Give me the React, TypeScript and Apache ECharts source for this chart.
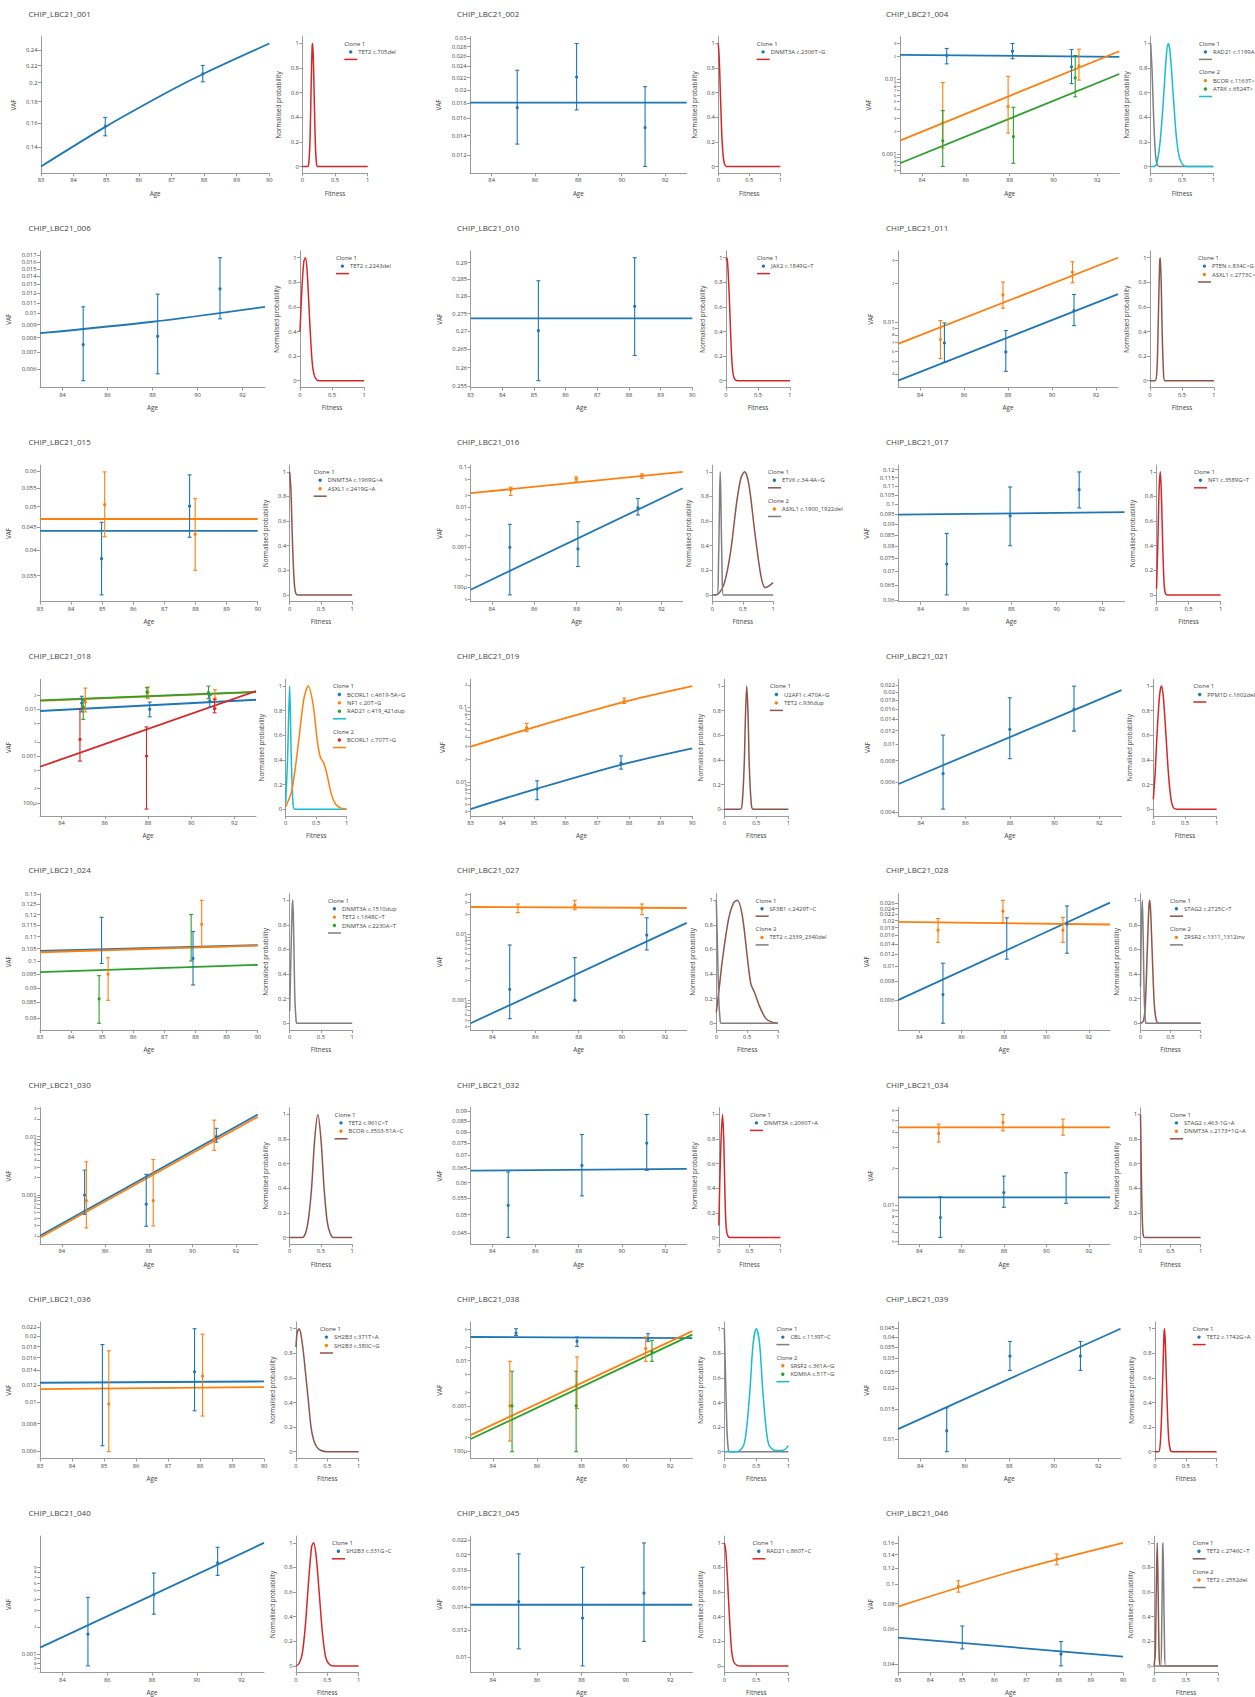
import React, { useEffect, useRef } from 'react';
import * as echarts from 'echarts';

const BLUE = '#1f77b4';
const ORANGE = '#ff7f0e';
const GREEN = '#2ca02c';
const RED = '#d62728';
const BROWN = '#8c564b';
const GRAY = '#7f7f7f';
const CYAN = '#17becf';

// ---------- axis tick labels ----------
const AGE_TICKS_90 = [83, 84, 85, 86, 87, 88, 89, 90];
const AGE_TICKS_93 = [84, 86, 88, 90, 92];
const FIT_X_TICKS = [0, 0.5, 1];
const FIT_Y_TICKS = [0, 0.2, 0.4, 0.6, 0.8, 1];

const YT_001 = [0.14, 0.16, 0.18, 0.2, 0.22, 0.24];
const YT_002 = [0.012, 0.014, 0.016, 0.018, 0.02, 0.022, 0.024, 0.026, 0.028, 0.03];
const YT_004 = [0.0006, 0.0007, 0.0008, 0.0009, 0.001, 0.002, 0.003, 0.004, 0.005, 0.006, 0.007, 0.008, 0.009, 0.01, 0.02, 0.03];
const YT_006 = [0.006, 0.007, 0.008, 0.009, 0.01, 0.011, 0.012, 0.013, 0.014, 0.015, 0.016, 0.017];
const YT_010 = [0.255, 0.26, 0.265, 0.27, 0.275, 0.28, 0.285, 0.29];
const YT_011 = [0.004, 0.005, 0.006, 0.007, 0.008, 0.009, 0.01, 0.02, 0.03];
const YT_015 = [0.035, 0.04, 0.045, 0.05, 0.055, 0.06];
const YT_016 = [0.00005, 0.0001, 0.0002, 0.0005, 0.001, 0.002, 0.005, 0.01, 0.02, 0.05, 0.1];
const YT_017 = [0.06, 0.065, 0.07, 0.075, 0.08, 0.085, 0.09, 0.095, 0.1, 0.105, 0.11, 0.115, 0.12];
const YT_018 = [0.0001, 0.0002, 0.0005, 0.001, 0.002, 0.005, 0.01, 0.02, 0.05];
const YT_019 = [0.004, 0.005, 0.006, 0.007, 0.008, 0.009, 0.01, 0.02, 0.03, 0.04, 0.05, 0.06, 0.07, 0.08, 0.09, 0.1, 0.2];
const YT_021 = [0.004, 0.006, 0.008, 0.01, 0.012, 0.014, 0.016, 0.018, 0.02, 0.022, 0.024];
const YT_024 = [0.08, 0.085, 0.09, 0.095, 0.1, 0.105, 0.11, 0.115, 0.12, 0.125, 0.13];
const YT_027 = [0.0004, 0.0005, 0.0006, 0.0007, 0.0008, 0.0009, 0.001, 0.002, 0.003, 0.004, 0.005, 0.006, 0.007, 0.008, 0.009, 0.01, 0.02, 0.03, 0.04];
const YT_028 = [0.006, 0.008, 0.01, 0.012, 0.014, 0.016, 0.018, 0.02, 0.022, 0.024, 0.026, 0.028];
const YT_030 = [0.0002, 0.0003, 0.0004, 0.0005, 0.0006, 0.0007, 0.0008, 0.0009, 0.001, 0.002, 0.003, 0.004, 0.005, 0.006, 0.007, 0.008, 0.009, 0.01, 0.02, 0.03];
const YT_032 = [0.045, 0.05, 0.055, 0.06, 0.065, 0.07, 0.075, 0.08, 0.085, 0.09];
const YT_034 = [0.005, 0.006, 0.007, 0.008, 0.009, 0.01, 0.02, 0.03, 0.04, 0.05, 0.06];
const YT_036 = [0.006, 0.008, 0.01, 0.012, 0.014, 0.016, 0.018, 0.02, 0.022];
const YT_038 = [0.0001, 0.0002, 0.0005, 0.001, 0.002, 0.005, 0.01, 0.02, 0.05];
const YT_039 = [0.01, 0.015, 0.02, 0.025, 0.03, 0.035, 0.04, 0.045];
const YT_040 = [0.0007, 0.0008, 0.0009, 0.001, 0.002, 0.003, 0.004, 0.005, 0.006, 0.007, 0.008, 0.009, 0.01, 0.02];
const YT_045 = [0.01, 0.012, 0.014, 0.016, 0.018, 0.02, 0.022];
const YT_046 = [0.04, 0.06, 0.08, 0.1, 0.12, 0.14, 0.16];

// ---------- VAF points: [age, vaf, low, high] and fitted trajectories: [age, vaf] ----------
const PTS_001_TET2 = [[84.97, 0.157, 0.149, 0.165], [87.96, 0.21, 0.201, 0.22]];
const LINE_001_TET2 = [[83, 0.1257], [85, 0.157], [87, 0.192], [88, 0.2105], [90, 0.2485]];

const PTS_002_DNMT3A = [[85.18, 0.0174, 0.0131, 0.0233], [87.92, 0.0221, 0.0171, 0.0287], [91.08, 0.0149, 0.011, 0.0205]];
const LINE_002_DNMT3A = [[83, 0.0181], [93, 0.0181]];

const PTS_004_RAD21 = [[85.13, 0.0207, 0.016, 0.0257], [88.13, 0.0236, 0.0187, 0.0299], [90.82, 0.0146, 0.0087, 0.0249]];
const LINE_004_RAD21 = [[83, 0.0211], [93, 0.0198]];
const PTS_004_BCOR = [[84.95, 0.0026, 0.0012, 0.009], [87.93, 0.0043, 0.0019, 0.0109], [91.16, 0.015, 0.0097, 0.0251]];
const LINE_004_BCOR = [[83, 0.00151], [93, 0.0236]];
const PTS_004_ATRX = [[84.95, 0.0015, 0.00068, 0.0038], [88.17, 0.0017, 0.00075, 0.0042], [90.99, 0.0104, 0.0058, 0.0207]];
const LINE_004_ATRX = [[83, 0.00075], [93, 0.0117]];

const PTS_006_TET2 = [[84.92, 0.0075, 0.0054, 0.0106], [88.23, 0.0081, 0.00575, 0.0119], [91.0, 0.0125, 0.0095, 0.0166]];
const LINE_006_TET2 = [[83, 0.00833], [88, 0.00925], [93, 0.0106]];

const PTS_010_JAK2 = [[85.14, 0.2702, 0.2565, 0.2846], [88.18, 0.2771, 0.2633, 0.2915]];
const LINE_010_JAK2 = [[83, 0.2737], [90, 0.2737]];

const PTS_011_PTEN = [[85.11, 0.00693, 0.00491, 0.00988], [87.9, 0.0059, 0.00419, 0.00863], [91.0, 0.0123, 0.00942, 0.01635]];
const LINE_011_PTEN = [[83, 0.00355], [93, 0.01644]];
const PTS_011_ASXL1 = [[84.93, 0.00735, 0.00525, 0.0103], [87.77, 0.01626, 0.01283, 0.02037], [90.93, 0.02432, 0.02013, 0.02923]];
const LINE_011_ASXL1 = [[83, 0.00681], [93, 0.03136]];

const PTS_015_DNMT3A = [[84.98, 0.0382, 0.0317, 0.0461], [87.81, 0.0501, 0.0427, 0.0589]];
const LINE_015_DNMT3A = [[83, 0.0441], [90, 0.0441]];
const PTS_015_ASXL1 = [[85.08, 0.0505, 0.0428, 0.0598], [87.99, 0.0433, 0.036, 0.0521]];
const LINE_015_ASXL1 = [[83, 0.0469], [90, 0.0469]];

const PTS_016_ETV6 = [[84.85, 0.001, 0.0000653, 0.00373], [88.06, 0.00091, 0.000331, 0.00434], [90.89, 0.00962, 0.00637, 0.0164]];
const LINE_016_ETV6 = [[83, 0.0000877], [93, 0.0295]];
const PTS_016_ASXL1 = [[84.89, 0.0268, 0.0194, 0.0313], [87.98, 0.0503, 0.0441, 0.0564], [91.08, 0.061, 0.0523, 0.067]];
const LINE_016_ASXL1 = [[83, 0.0222], [93, 0.0751]];

const PTS_017_NF1 = [[85.15, 0.0727, 0.0618, 0.0856], [87.95, 0.094, 0.0802, 0.1095], [91.0, 0.108, 0.098, 0.1186]];
const LINE_017_NF1 = [[83, 0.0946], [93, 0.0958]];

const PTS_018_BCORL1A = [[84.93, 0.0136, 0.0088, 0.019], [88.08, 0.01, 0.0069, 0.0143], [90.86, 0.015, 0.0112, 0.02]];
const LINE_018_BCORL1A = [[83, 0.0092], [93, 0.016]];
const PTS_018_NF1 = [[85.1, 0.0143, 0.0088, 0.0284], [88.0, 0.0234, 0.0169, 0.0299], [91.1, 0.0169, 0.0103, 0.0262]];
const LINE_018_NF1 = [[83, 0.0152], [93, 0.0232]];
const PTS_018_RAD21 = [[85.0, 0.0112, 0.0061, 0.0155], [87.95, 0.0234, 0.0183, 0.029], [90.8, 0.0226, 0.0169, 0.0313]];
const LINE_018_RAD21 = [[83, 0.0155], [93, 0.0236]];
const PTS_018_BCORL1B = [[84.85, 0.00226, 0.00078, 0.0103], [87.93, 0.001, 0.0000735, 0.0042], [91.08, 0.0103, 0.0084, 0.0163]];
const LINE_018_BCORL1B = [[83, 0.00059], [93, 0.0245]];

const PTS_019_U2AF1 = [[85.1, 0.00797, 0.00574, 0.0103], [87.75, 0.0178, 0.0148, 0.0223]];
const LINE_019_U2AF1 = [[83, 0.0043], [85.1, 0.0081], [87.8, 0.0172], [90, 0.0282]];
const PTS_019_TET2 = [[84.77, 0.0534, 0.0472, 0.0609], [87.85, 0.1216, 0.1131, 0.1333]];
const LINE_019_TET2 = [[83, 0.0297], [85, 0.054], [88, 0.1228], [90, 0.193]];

const PTS_021_PPM1D = [[85.0, 0.00672, 0.00418, 0.01128], [87.99, 0.01217, 0.00822, 0.01862], [90.87, 0.01592, 0.0119, 0.02178]];
const LINE_021_PPM1D = [[83, 0.00585], [93, 0.02064]];

const PTS_024_DNMT3A_A = [[84.98, 0.1085, 0.099, 0.1187], [87.92, 0.101, 0.091, 0.1123]];
const LINE_024_DNMT3A_A = [[83, 0.104], [90, 0.1064]];
const PTS_024_TET2 = [[85.19, 0.095, 0.0857, 0.1013], [88.2, 0.1155, 0.1055, 0.1269]];
const LINE_024_TET2 = [[83, 0.1035], [90, 0.1062]];
const PTS_024_DNMT3A_B = [[84.9, 0.0862, 0.0783, 0.0944], [87.86, 0.11, 0.1, 0.12]];
const LINE_024_DNMT3A_B = [[83, 0.0957], [90, 0.0985]];

const PTS_027_SF3B1 = [[84.81, 0.00146, 0.000525, 0.00684], [87.82, 0.001, 0.00098, 0.0044], [91.15, 0.00966, 0.00575, 0.0176]];
const LINE_027_SF3B1 = [[83, 0.000447], [93, 0.0148]];
const PTS_027_TET2 = [[85.19, 0.0248, 0.0211, 0.0285], [87.82, 0.0272, 0.0234, 0.0324], [90.93, 0.0243, 0.0197, 0.0285]];
const LINE_027_TET2 = [[83, 0.0257], [93, 0.0248]];

const PTS_028_STAG2 = [[85.12, 0.00653, 0.00423, 0.0105], [88.13, 0.01507, 0.01117, 0.02089], [90.97, 0.01897, 0.01222, 0.025]];
const LINE_028_STAG2 = [[83, 0.006], [93, 0.0263]];
const PTS_028_ZRSR2 = [[84.89, 0.01733, 0.01442, 0.02066], [87.95, 0.02307, 0.01945, 0.02722], [90.78, 0.01733, 0.01442, 0.021]];
const LINE_028_ZRSR2 = [[83, 0.01965], [93, 0.01888]];

const PTS_030_TET2 = [[85.05, 0.001, 0.000467, 0.00267], [87.88, 0.000697, 0.000292, 0.00226], [91.1, 0.01, 0.00802, 0.0138]];
const LINE_030_TET2 = [[83, 0.000201], [93, 0.0238]];
const PTS_030_BCOR = [[85.13, 0.000802, 0.000274, 0.00369], [88.2, 0.0008, 0.000296, 0.00404], [91.0, 0.00901, 0.00581, 0.0191]];
const LINE_030_BCOR = [[83, 0.000188], [93, 0.0217]];

const PTS_032_DNMT3A = [[84.74, 0.0527, 0.0439, 0.0637], [88.15, 0.0661, 0.0556, 0.0788], [91.15, 0.0751, 0.0643, 0.0883]];
const LINE_032_DNMT3A = [[83, 0.0642], [93, 0.0648]];

const PTS_034_STAG2 = [[85.0, 0.00787, 0.0054, 0.0117], [87.99, 0.01263, 0.00957, 0.01729], [90.93, 0.01371, 0.01032, 0.01844]];
const LINE_034_STAG2 = [[83, 0.01156], [93, 0.01156]];
const PTS_034_DNMT3A = [[84.92, 0.0388, 0.033, 0.0464], [87.95, 0.0478, 0.0408, 0.0556], [90.78, 0.044, 0.0376, 0.0509]];
const LINE_034_DNMT3A = [[83, 0.0435], [93, 0.0435]];

const PTS_036_SH2B3A = [[84.95, 0.01054, 0.00634, 0.01838], [87.83, 0.0138, 0.00916, 0.0217]];
const LINE_036_SH2B3A = [[83, 0.0123], [90, 0.01247]];
const PTS_036_SH2B3B = [[85.15, 0.00983, 0.00596, 0.0172], [88.08, 0.01318, 0.00867, 0.0205]];
const LINE_036_SH2B3B = [[83, 0.0115], [90, 0.01175]];

const PTS_038_CBL = [[85.05, 0.0407, 0.0362, 0.0508], [87.8, 0.0267, 0.0207, 0.0333], [91.0, 0.0305, 0.0267, 0.0394]];
const LINE_038_CBL = [[83, 0.0333], [93, 0.0316]];
const PTS_038_SRSF2 = [[84.77, 0.001, 0.000166, 0.00966], [87.8, 0.00286, 0.000873, 0.01206], [90.9, 0.0184, 0.00966, 0.0333]];
const LINE_038_SRSF2 = [[83, 0.000225], [93, 0.0451]];
const PTS_038_KDM6A = [[84.87, 0.001, 0.0000966, 0.00582], [87.76, 0.001, 0.0000966, 0.00582], [91.18, 0.0155, 0.00966, 0.0281]];
const LINE_038_KDM6A = [[83, 0.000184], [93, 0.0375]];

const PTS_039_TET2 = [[85.19, 0.01119, 0.00843, 0.01528], [88.03, 0.0308, 0.0254, 0.0376], [91.2, 0.0308, 0.0254, 0.0376]];
const LINE_039_TET2 = [[83, 0.01145], [93, 0.0447]];

const PTS_040_SH2B3 = [[85.14, 0.00166, 0.000745, 0.0042], [88.08, 0.00449, 0.00275, 0.00776], [90.93, 0.01, 0.00732, 0.01486]];
const LINE_040_SH2B3 = [[83, 0.00118], [93, 0.0166]];

const PTS_045_RAD21 = [[85.17, 0.01456, 0.01058, 0.0201], [88.05, 0.01303, 0.00943, 0.01836], [90.82, 0.01542, 0.01112, 0.02164]];
const LINE_045_RAD21 = [[83, 0.01425], [93, 0.01425]];

const PTS_046_TET2A = [[85.0, 0.0543, 0.0477, 0.062], [88.07, 0.045, 0.0393, 0.0519]];
const LINE_046_TET2A = [[83, 0.0543], [90, 0.0437]];
const PTS_046_TET2B = [[84.88, 0.0974, 0.0912, 0.1039], [87.94, 0.1331, 0.1248, 0.141]];
const LINE_046_TET2B = [[83, 0.0774], [86.5, 0.1148], [90, 0.16]];

// ---------- fitness distributions: [fitness, normalised probability] ----------
const FIT_001 = [[0, 0], [0.08, 0], [0.1, 0.03], [0.12, 0.25], [0.135, 0.65], [0.15, 0.97], [0.158, 1], [0.17, 0.85], [0.185, 0.5], [0.2, 0.18], [0.215, 0.04], [0.235, 0], [1, 0]];
const FIT_002 = [[0, 1], [0.015, 0.88], [0.03, 0.65], [0.045, 0.42], [0.06, 0.22], [0.08, 0.08], [0.1, 0.02], [0.13, 0], [1, 0]];
const FIT_004_C1 = [[0, 1], [0.02, 0.8], [0.04, 0.5], [0.06, 0.24], [0.08, 0.08], [0.1, 0.02], [0.13, 0], [1, 0]];
const FIT_004_C2 = [[0, 0], [0.05, 0], [0.1, 0.03], [0.15, 0.2], [0.2, 0.52], [0.25, 0.9], [0.28, 1], [0.31, 0.93], [0.36, 0.58], [0.41, 0.24], [0.46, 0.07], [0.52, 0.01], [0.58, 0], [1, 0]];
const FIT_006 = [[0, 0.4], [0.03, 0.75], [0.06, 0.97], [0.085, 1], [0.11, 0.9], [0.14, 0.6], [0.17, 0.3], [0.2, 0.1], [0.24, 0.02], [0.3, 0], [1, 0]];
const FIT_010 = [[0, 0.98], [0.015, 1], [0.03, 0.92], [0.05, 0.7], [0.07, 0.42], [0.09, 0.18], [0.11, 0.06], [0.14, 0.01], [0.2, 0], [1, 0]];
const FIT_011 = [[0, 0], [0.08, 0], [0.11, 0.1], [0.13, 0.5], [0.15, 0.95], [0.16, 1], [0.175, 0.8], [0.19, 0.4], [0.21, 0.08], [0.23, 0], [1, 0]];
const FIT_015 = [[0, 1], [0.02, 0.85], [0.04, 0.5], [0.06, 0.22], [0.08, 0.06], [0.1, 0.01], [0.13, 0], [1, 0]];
const FIT_016_C1 = [[0, 0], [0.1, 0.01], [0.2, 0.1], [0.3, 0.35], [0.4, 0.75], [0.47, 0.95], [0.53, 1], [0.6, 0.9], [0.7, 0.5], [0.8, 0.15], [0.87, 0.06], [0.92, 0.07], [1, 0.1]];
const FIT_016_C2 = [[0, 0], [0.08, 0], [0.1, 0.2], [0.12, 0.8], [0.13, 1], [0.14, 0.8], [0.16, 0.2], [0.18, 0], [1, 0]];
const FIT_017 = [[0, 0.05], [0.02, 0.4], [0.04, 0.85], [0.06, 1], [0.08, 0.75], [0.1, 0.35], [0.12, 0.08], [0.14, 0.01], [0.17, 0], [1, 0]];
const FIT_018_C1 = [[0, 0.05], [0.03, 0.4], [0.065, 1], [0.09, 0.45], [0.12, 0.05], [0.15, 0], [1, 0]];
const FIT_018_C2 = [[0, 0.02], [0.1, 0.15], [0.2, 0.5], [0.3, 0.9], [0.37, 1], [0.45, 0.85], [0.52, 0.55], [0.57, 0.42], [0.62, 0.38], [0.67, 0.3], [0.75, 0.12], [0.82, 0.04], [0.9, 0.01], [1, 0]];
const FIT_019 = [[0, 0], [0.25, 0], [0.28, 0.05], [0.31, 0.35], [0.33, 0.75], [0.35, 1], [0.37, 0.78], [0.39, 0.35], [0.42, 0.05], [0.45, 0], [1, 0]];
const FIT_021 = [[0, 0.08], [0.03, 0.3], [0.06, 0.62], [0.1, 0.93], [0.13, 1], [0.16, 0.9], [0.2, 0.6], [0.24, 0.28], [0.28, 0.08], [0.32, 0.01], [0.38, 0], [1, 0]];
const FIT_024 = [[0, 0.1], [0.02, 0.55], [0.04, 0.95], [0.05, 1], [0.065, 0.7], [0.08, 0.25], [0.1, 0.04], [0.12, 0], [1, 0]];
const FIT_027_C1 = [[0, 0.09], [0.05, 0.3], [0.1, 0.52], [0.2, 0.85], [0.28, 0.98], [0.34, 1], [0.42, 0.88], [0.5, 0.55], [0.56, 0.32], [0.62, 0.25], [0.7, 0.14], [0.8, 0.04], [0.9, 0.01], [1, 0]];
const FIT_027_C2 = [[0, 1], [0.02, 0.6], [0.04, 0.2], [0.06, 0.04], [0.08, 0], [1, 0]];
const FIT_028_C1 = [[0, 0], [0.05, 0.02], [0.08, 0.15], [0.11, 0.55], [0.14, 0.95], [0.155, 1], [0.17, 0.9], [0.2, 0.5], [0.23, 0.15], [0.26, 0.03], [0.3, 0], [1, 0]];
const FIT_028_C2 = [[0, 0.3], [0.015, 0.8], [0.03, 1], [0.045, 0.7], [0.06, 0.25], [0.08, 0.03], [0.1, 0], [1, 0]];
const FIT_030 = [[0, 0], [0.2, 0], [0.25, 0.03], [0.3, 0.15], [0.35, 0.4], [0.4, 0.8], [0.45, 1], [0.5, 0.8], [0.55, 0.4], [0.6, 0.13], [0.65, 0.03], [0.7, 0], [1, 0]];
const FIT_032 = [[0, 0.1], [0.03, 0.7], [0.06, 1], [0.08, 0.8], [0.1, 0.35], [0.12, 0.08], [0.15, 0.01], [0.2, 0], [1, 0]];
const FIT_034 = [[0, 1], [0.01, 0.7], [0.02, 0.35], [0.035, 0.08], [0.05, 0.01], [0.07, 0], [1, 0]];
const FIT_036 = [[0, 0.85], [0.02, 0.97], [0.05, 1], [0.08, 0.95], [0.12, 0.8], [0.16, 0.6], [0.2, 0.4], [0.24, 0.2], [0.28, 0.1], [0.33, 0.04], [0.4, 0.01], [0.5, 0], [1, 0]];
const FIT_038_C1 = [[0, 1], [0.02, 0.6], [0.04, 0.2], [0.06, 0.03], [0.08, 0], [1, 0]];
const FIT_038_C2 = [[0, 0], [0.2, 0], [0.3, 0.05], [0.35, 0.2], [0.4, 0.5], [0.45, 0.88], [0.5, 1], [0.55, 0.88], [0.6, 0.5], [0.65, 0.2], [0.7, 0.05], [0.8, 0.01], [0.9, 0.01], [0.95, 0.02], [1, 0.05]];
const FIT_039 = [[0, 0], [0.06, 0], [0.09, 0.1], [0.12, 0.5], [0.145, 0.95], [0.155, 1], [0.17, 0.85], [0.19, 0.5], [0.22, 0.12], [0.25, 0.01], [0.28, 0], [1, 0]];
const FIT_040 = [[0, 0], [0.05, 0.02], [0.1, 0.1], [0.15, 0.33], [0.2, 0.68], [0.25, 0.97], [0.28, 1], [0.32, 0.9], [0.37, 0.6], [0.42, 0.28], [0.47, 0.08], [0.52, 0.02], [0.6, 0], [1, 0]];
const FIT_045 = [[0, 1], [0.02, 0.95], [0.04, 0.8], [0.06, 0.6], [0.08, 0.4], [0.1, 0.22], [0.12, 0.1], [0.15, 0.03], [0.2, 0.005], [0.25, 0], [1, 0]];
const FIT_046_C1 = [[0, 0], [0.02, 0.1], [0.035, 0.6], [0.05, 1], [0.065, 0.6], [0.08, 0.1], [0.1, 0], [1, 0]];
const FIT_046_C2 = [[0, 0], [0.1, 0], [0.12, 0.3], [0.135, 0.95], [0.14, 1], [0.15, 0.7], [0.165, 0.15], [0.18, 0], [1, 0]];

// ---------- panel table (built from the arrays above) ----------
const m = (name, color, pts, line) => ({ name, color, pts, line });
const c = (label, fitColor, fitness, muts) => ({ label, fitColor, fitness, muts });

const PANELS = [
  { title: 'CHIP_LBC21_001', xMax: 90, dec: false, yTicks: YT_001, clones: [c('Clone 1', RED, FIT_001, [m('TET2 c.705del', BLUE, PTS_001_TET2, LINE_001_TET2)])] },
  { title: 'CHIP_LBC21_002', xMax: 93, dec: false, yTicks: YT_002, clones: [c('Clone 1', RED, FIT_002, [m('DNMT3A c.2306T>G', BLUE, PTS_002_DNMT3A, LINE_002_DNMT3A)])] },
  { title: 'CHIP_LBC21_004', xMax: 93, dec: true, yTicks: YT_004, clones: [
    c('Clone 1', GRAY, FIT_004_C1, [m('RAD21 c.1199A', BLUE, PTS_004_RAD21, LINE_004_RAD21)]),
    c('Clone 2', CYAN, FIT_004_C2, [m('BCOR c.1163T>', ORANGE, PTS_004_BCOR, LINE_004_BCOR), m('ATRX c.6524T>', GREEN, PTS_004_ATRX, LINE_004_ATRX)]),
  ] },
  { title: 'CHIP_LBC21_006', xMax: 93, dec: false, yTicks: YT_006, clones: [c('Clone 1', RED, FIT_006, [m('TET2 c.2243del', BLUE, PTS_006_TET2, LINE_006_TET2)])] },
  { title: 'CHIP_LBC21_010', xMax: 90, dec: false, yTicks: YT_010, clones: [c('Clone 1', RED, FIT_010, [m('JAK2 c.1849G>T', BLUE, PTS_010_JAK2, LINE_010_JAK2)])] },
  { title: 'CHIP_LBC21_011', xMax: 93, dec: true, yTicks: YT_011, clones: [c('Clone 1', BROWN, FIT_011, [m('PTEN c.834C>G', BLUE, PTS_011_PTEN, LINE_011_PTEN), m('ASXL1 c.2773C>', ORANGE, PTS_011_ASXL1, LINE_011_ASXL1)])] },
  { title: 'CHIP_LBC21_015', xMax: 90, dec: false, yTicks: YT_015, clones: [c('Clone 1', BROWN, FIT_015, [m('DNMT3A c.1969G>A', BLUE, PTS_015_DNMT3A, LINE_015_DNMT3A), m('ASXL1 c.2419G>A', ORANGE, PTS_015_ASXL1, LINE_015_ASXL1)])] },
  { title: 'CHIP_LBC21_016', xMax: 93, dec: true, yTicks: YT_016, clones: [
    c('Clone 1', BROWN, FIT_016_C1, [m('ETV6 c.34-4A>G', BLUE, PTS_016_ETV6, LINE_016_ETV6)]),
    c('Clone 2', GRAY, FIT_016_C2, [m('ASXL1 c.1900_1922del', ORANGE, PTS_016_ASXL1, LINE_016_ASXL1)]),
  ] },
  { title: 'CHIP_LBC21_017', xMax: 93, dec: false, yTicks: YT_017, clones: [c('Clone 1', RED, FIT_017, [m('NF1 c.3589G>T', BLUE, PTS_017_NF1, LINE_017_NF1)])] },
  { title: 'CHIP_LBC21_018', xMax: 93, dec: true, yTicks: YT_018, clones: [
    c('Clone 1', CYAN, FIT_018_C1, [m('BCORL1 c.4619-5A>G', BLUE, PTS_018_BCORL1A, LINE_018_BCORL1A), m('NF1 c.20T>G', ORANGE, PTS_018_NF1, LINE_018_NF1), m('RAD21 c.419_421dup', GREEN, PTS_018_RAD21, LINE_018_RAD21)]),
    c('Clone 2', ORANGE, FIT_018_C2, [m('BCORL1 c.707T>G', RED, PTS_018_BCORL1B, LINE_018_BCORL1B)]),
  ] },
  { title: 'CHIP_LBC21_019', xMax: 90, dec: true, yTicks: YT_019, clones: [c('Clone 1', BROWN, FIT_019, [m('U2AF1 c.470A>G', BLUE, PTS_019_U2AF1, LINE_019_U2AF1), m('TET2 c.936dup', ORANGE, PTS_019_TET2, LINE_019_TET2)])] },
  { title: 'CHIP_LBC21_021', xMax: 93, dec: false, yTicks: YT_021, clones: [c('Clone 1', RED, FIT_021, [m('PPM1D c.1602del', BLUE, PTS_021_PPM1D, LINE_021_PPM1D)])] },
  { title: 'CHIP_LBC21_024', xMax: 90, dec: false, yTicks: YT_024, clones: [c('Clone 1', GRAY, FIT_024, [m('DNMT3A c.1510dup', BLUE, PTS_024_DNMT3A_A, LINE_024_DNMT3A_A), m('TET2 c.1648C>T', ORANGE, PTS_024_TET2, LINE_024_TET2), m('DNMT3A c.2230A>T', GREEN, PTS_024_DNMT3A_B, LINE_024_DNMT3A_B)])] },
  { title: 'CHIP_LBC21_027', xMax: 93, dec: true, yTicks: YT_027, clones: [
    c('Clone 1', BROWN, FIT_027_C1, [m('SF3B1 c.2429T>C', BLUE, PTS_027_SF3B1, LINE_027_SF3B1)]),
    c('Clone 2', GRAY, FIT_027_C2, [m('TET2 c.2339_2340del', ORANGE, PTS_027_TET2, LINE_027_TET2)]),
  ] },
  { title: 'CHIP_LBC21_028', xMax: 93, dec: false, yTicks: YT_028, clones: [
    c('Clone 1', BROWN, FIT_028_C1, [m('STAG2 c.2725C>T', BLUE, PTS_028_STAG2, LINE_028_STAG2)]),
    c('Clone 2', GRAY, FIT_028_C2, [m('ZRSR2 c.1311_1312inv', ORANGE, PTS_028_ZRSR2, LINE_028_ZRSR2)]),
  ] },
  { title: 'CHIP_LBC21_030', xMax: 93, dec: true, yTicks: YT_030, clones: [c('Clone 1', BROWN, FIT_030, [m('TET2 c.961C>T', BLUE, PTS_030_TET2, LINE_030_TET2), m('BCOR c.3503-51A>C', ORANGE, PTS_030_BCOR, LINE_030_BCOR)])] },
  { title: 'CHIP_LBC21_032', xMax: 93, dec: false, yTicks: YT_032, clones: [c('Clone 1', RED, FIT_032, [m('DNMT3A c.2060T>A', BLUE, PTS_032_DNMT3A, LINE_032_DNMT3A)])] },
  { title: 'CHIP_LBC21_034', xMax: 93, dec: true, yTicks: YT_034, clones: [c('Clone 1', BROWN, FIT_034, [m('STAG2 c.463-1G>A', BLUE, PTS_034_STAG2, LINE_034_STAG2), m('DNMT3A c.2173+1G>A', ORANGE, PTS_034_DNMT3A, LINE_034_DNMT3A)])] },
  { title: 'CHIP_LBC21_036', xMax: 90, dec: false, yTicks: YT_036, clones: [c('Clone 1', BROWN, FIT_036, [m('SH2B3 c.371T>A', BLUE, PTS_036_SH2B3A, LINE_036_SH2B3A), m('SH2B3 c.380C>G', ORANGE, PTS_036_SH2B3B, LINE_036_SH2B3B)])] },
  { title: 'CHIP_LBC21_038', xMax: 93, dec: true, yTicks: YT_038, clones: [
    c('Clone 1', GRAY, FIT_038_C1, [m('CBL c.1139T>C', BLUE, PTS_038_CBL, LINE_038_CBL)]),
    c('Clone 2', CYAN, FIT_038_C2, [m('SRSF2 c.361A>G', ORANGE, PTS_038_SRSF2, LINE_038_SRSF2), m('KDM6A c.51T>G', GREEN, PTS_038_KDM6A, LINE_038_KDM6A)]),
  ] },
  { title: 'CHIP_LBC21_039', xMax: 93, dec: false, yTicks: YT_039, clones: [c('Clone 1', RED, FIT_039, [m('TET2 c.1742G>A', BLUE, PTS_039_TET2, LINE_039_TET2)])] },
  { title: 'CHIP_LBC21_040', xMax: 93, dec: true, yTicks: YT_040, clones: [c('Clone 1', RED, FIT_040, [m('SH2B3 c.331G>C', BLUE, PTS_040_SH2B3, LINE_040_SH2B3)])] },
  { title: 'CHIP_LBC21_045', xMax: 93, dec: false, yTicks: YT_045, clones: [c('Clone 1', RED, FIT_045, [m('RAD21 c.860T>C', BLUE, PTS_045_RAD21, LINE_045_RAD21)])] },
  { title: 'CHIP_LBC21_046', xMax: 90, dec: false, yTicks: YT_046, clones: [
    c('Clone 1', BROWN, FIT_046_C1, [m('TET2 c.2746C>T', BLUE, PTS_046_TET2A, LINE_046_TET2A)]),
    c('Clone 2', GRAY, FIT_046_C2, [m('TET2 c.2552del', ORANGE, PTS_046_TET2B, LINE_046_TET2B)]),
  ] },
];

// ---------- layout: [vafLeft, vafRight, fitLeft, fitRight, legendX] per panel ----------
const LAYOUT = [
  [41, 269.3, 302.3, 367.7, 344.3],
  [470, 686.7, 718.3, 780.3, 756.7],
  [900, 1119.3, 1150.7, 1213.3, 1199],
  [40, 265, 300, 364.2, 336],
  [470.6, 692.3, 726, 790, 757],
  [898, 1118, 1150, 1214, 1198],
  [40, 257.7, 289.7, 352.2, 313.7],
  [470.6, 682.7, 712.3, 773.2, 768],
  [898, 1124.5, 1156.5, 1220.6, 1194],
  [40, 256, 285.7, 346.6, 333],
  [470.6, 692.3, 724.3, 788.4, 770],
  [898.5, 1121.5, 1153.3, 1216.7, 1193.3],
  [40, 257.7, 289.7, 352.2, 328],
  [470.6, 686.7, 716.3, 778, 755.6],
  [898, 1110, 1140.5, 1200.6, 1170],
  [40, 257.7, 289.7, 352.2, 334.6],
  [470.6, 686.7, 718.8, 780.4, 750],
  [898, 1110, 1140.5, 1200.6, 1170],
  [40, 264, 296, 358.6, 320],
  [470.6, 692.3, 724.3, 788.4, 776.4],
  [898, 1120.5, 1155, 1216.6, 1192.6],
  [40, 264, 296, 358.6, 332],
  [470.6, 692.3, 724.3, 788.4, 752.4],
  [898, 1123, 1154, 1218, 1192.6],
];
const TITLE_X = [28.5, 457, 886];
const ROW0 = 13;
const ROW_PITCH = 214.2;
const PLOT_DY = 23.7;
const PLOT_H = 136.6;

const FONT = "'Open Sans', verdana, arial, sans-serif";
const TXT = '#444';
const AX = '#9a9a9a';

function fmtNum(v) {
  return parseFloat(v.toPrecision(6)).toString();
}
function tickLabel(v, dec) {
  if (!dec) return { text: fmtNum(v), minor: false };
  const e = Math.floor(Math.log10(v) + 1e-9);
  const mant = Math.round(v / Math.pow(10, e));
  if (mant === 1) return { text: e === -4 ? '100μ' : fmtNum(v), minor: false };
  return { text: String(mant), minor: true };
}
function labelWidth(s) {
  let w = 0;
  for (const ch of s) w += ch === '.' ? 1.6 : 3.3;
  return w;
}

function errorBars(color, data, gi) {
  return {
    type: 'custom',
    xAxisIndex: gi,
    yAxisIndex: gi,
    data,
    encode: { x: 0, y: 1 },
    z: 3,
    silent: true,
    renderItem: (params, api) => {
      const x = api.value(0);
      const pc = api.coord([x, api.value(1)]);
      const pl = api.coord([x, api.value(2)]);
      const ph = api.coord([x, api.value(3)]);
      const s = { stroke: color, lineWidth: 1.1 };
      return {
        type: 'group',
        children: [
          { type: 'line', shape: { x1: pl[0], y1: pl[1], x2: ph[0], y2: ph[1] }, style: s },
          { type: 'line', shape: { x1: pl[0] - 2, y1: pl[1], x2: pl[0] + 2, y2: pl[1] }, style: s },
          { type: 'line', shape: { x1: ph[0] - 2, y1: ph[1], x2: ph[0] + 2, y2: ph[1] }, style: s },
          { type: 'circle', shape: { cx: pc[0], cy: pc[1], r: 1.6 }, style: { fill: color } },
        ],
      };
    },
  };
}

function buildOption() {
  const grid = [];
  const xAxis = [];
  const yAxis = [];
  const series = [];
  const graphic = [];
  const axisLine = { show: true, onZero: false, lineStyle: { color: AX, width: 1 } };
  const tick = (vals) => ({ show: true, length: 3, inside: false, customValues: vals, lineStyle: { color: AX, width: 1 } });
  const txt = (x, y, text, size, extra = {}) => ({
    type: 'text', x, y, silent: true, ...extra,
    style: { text, fontSize: size, fontFamily: FONT, fill: TXT, align: 'center', verticalAlign: 'middle', ...(extra.style || {}) },
  });

  PANELS.forEach((p, i) => {
    const row = Math.floor(i / 3);
    const col = i % 3;
    const [vL, vR, fL, fR, lgX] = LAYOUT[i];
    const T = ROW0 + ROW_PITCH * row;
    const top = T + PLOT_DY;

    let lo = Infinity;
    let hi = -Infinity;
    p.clones.forEach((cl) => cl.muts.forEach((mu) => {
      mu.pts.forEach((q) => {
        lo = Math.min(lo, Math.log10(q[2]), Math.log10(q[1]));
        hi = Math.max(hi, Math.log10(q[3]), Math.log10(q[1]));
      });
      mu.line.forEach((q) => {
        lo = Math.min(lo, Math.log10(q[1]));
        hi = Math.max(hi, Math.log10(q[1]));
      });
    }));
    const pad = (hi - lo) / 18;
    const yMin = lo - pad;
    const yMax = hi + pad;

    const logTicks = p.yTicks.map((v) => Math.log10(v));
    const labelMap = new Map();
    let maxW = 0;
    p.yTicks.forEach((v, k) => {
      const t = tickLabel(v, p.dec);
      labelMap.set(logTicks[k].toFixed(6), t.minor ? `{m|${t.text}}` : `{d|${t.text}}`);
      if (!t.minor && logTicks[k] >= yMin && logTicks[k] <= yMax) maxW = Math.max(maxW, labelWidth(t.text));
    });

    const gv = grid.length;
    grid.push({ left: vL, top, width: vR - vL, height: PLOT_H });
    const xt = p.xMax === 90 ? AGE_TICKS_90 : AGE_TICKS_93;
    xAxis.push({
      type: 'value', gridIndex: gv, min: 83, max: p.xMax,
      axisLine, axisTick: tick(xt), splitLine: { show: false },
      axisLabel: { customValues: xt, fontSize: 5.8, color: TXT, fontFamily: FONT, margin: 4, formatter: (v) => String(v) },
    });
    yAxis.push({
      type: 'value', gridIndex: gv, min: yMin, max: yMax,
      axisLine, axisTick: tick(logTicks), splitLine: { show: false },
      axisLabel: {
        customValues: logTicks, margin: 3.5, color: TXT, fontFamily: FONT,
        formatter: (v) => labelMap.get(Number(v).toFixed(6)) ?? '',
        rich: { d: { fontSize: 5.8, color: TXT, fontFamily: FONT }, m: { fontSize: 4.2, color: TXT, fontFamily: FONT } },
      },
    });

    const gf = grid.length;
    grid.push({ left: fL, top, width: fR - fL, height: PLOT_H });
    xAxis.push({
      type: 'value', gridIndex: gf, min: 0, max: 1,
      axisLine, axisTick: tick(FIT_X_TICKS), splitLine: { show: false },
      axisLabel: { customValues: FIT_X_TICKS, fontSize: 5.8, color: TXT, fontFamily: FONT, margin: 4, formatter: (v) => String(v) },
    });
    yAxis.push({
      type: 'value', gridIndex: gf, min: -0.055, max: 1.055,
      axisLine, axisTick: tick(FIT_Y_TICKS), splitLine: { show: false },
      axisLabel: { customValues: FIT_Y_TICKS, fontSize: 5.8, color: TXT, fontFamily: FONT, margin: 3.5, formatter: (v) => fmtNum(v) },
    });

    p.clones.forEach((cl) => {
      cl.muts.forEach((mu) => {
        series.push({
          type: 'line', xAxisIndex: gv, yAxisIndex: gv, silent: true, z: 2,
          data: mu.line.map((q) => [q[0], Math.log10(q[1])]),
          symbol: 'none', smooth: mu.line.length > 2 ? 0.3 : false,
          lineStyle: { color: mu.color, width: 1.8 }, itemStyle: { color: mu.color },
        });
        series.push(errorBars(mu.color, mu.pts.map((q) => [q[0], Math.log10(q[1]), Math.log10(q[2]), Math.log10(q[3])]), gv));
      });
      series.push({
        type: 'line', xAxisIndex: gf, yAxisIndex: gf, silent: true, z: 2,
        data: cl.fitness, symbol: 'none', smooth: 0.3,
        lineStyle: { color: cl.fitColor, width: 1.5 }, itemStyle: { color: cl.fitColor },
      });
    });

    // texts
    graphic.push(txt(TITLE_X[col], T, p.title, 8, { style: { align: 'left' } }));
    graphic.push(txt(vL - 3.5 - maxW - 13, top + PLOT_H / 2, 'VAF', 6.3, { rotation: Math.PI / 2 }));
    graphic.push(txt(fL - 24, top + PLOT_H / 2, 'Normalised probability', 6.3, { rotation: Math.PI / 2 }));
    graphic.push(txt((vL + vR) / 2, T + 180, 'Age', 6.3));
    graphic.push(txt((fL + fR) / 2, T + 180, 'Fitness', 6.3));

    // legend
    let y = T + 30.7;
    p.clones.forEach((cl) => {
      graphic.push(txt(lgX, y, cl.label, 6, { style: { align: 'left' } }));
      y += 8.2;
      let last = y;
      cl.muts.forEach((mu) => {
        graphic.push({ type: 'circle', silent: true, shape: { cx: lgX + 6.4, cy: y, r: 1.7 }, style: { fill: mu.color } });
        graphic.push(txt(lgX + 14, y, mu.name, 5.9, { style: { align: 'left' } }));
        last = y;
        y += 8.4;
      });
      const ly = last + 7.5;
      graphic.push({ type: 'line', silent: true, shape: { x1: lgX, y1: ly, x2: lgX + 13, y2: ly }, style: { stroke: cl.fitColor, lineWidth: 1.5 } });
      y = ly + 13;
    });
  });

  return { animation: false, backgroundColor: '#ffffff', grid, xAxis, yAxis, series, graphic };
}

export default function App() {
  const ref = useRef(null);
  useEffect(() => {
    document.body.style.margin = '0';
    const chart = echarts.init(ref.current, undefined, { renderer: 'svg', width: 1255, height: 1697 });
    chart.setOption(buildOption());
    return () => chart.dispose();
  }, []);
  return <div ref={ref} style={{ width: 1255, height: 1697, position: 'absolute', left: 0, top: 0, background: '#fff' }} />;
}
